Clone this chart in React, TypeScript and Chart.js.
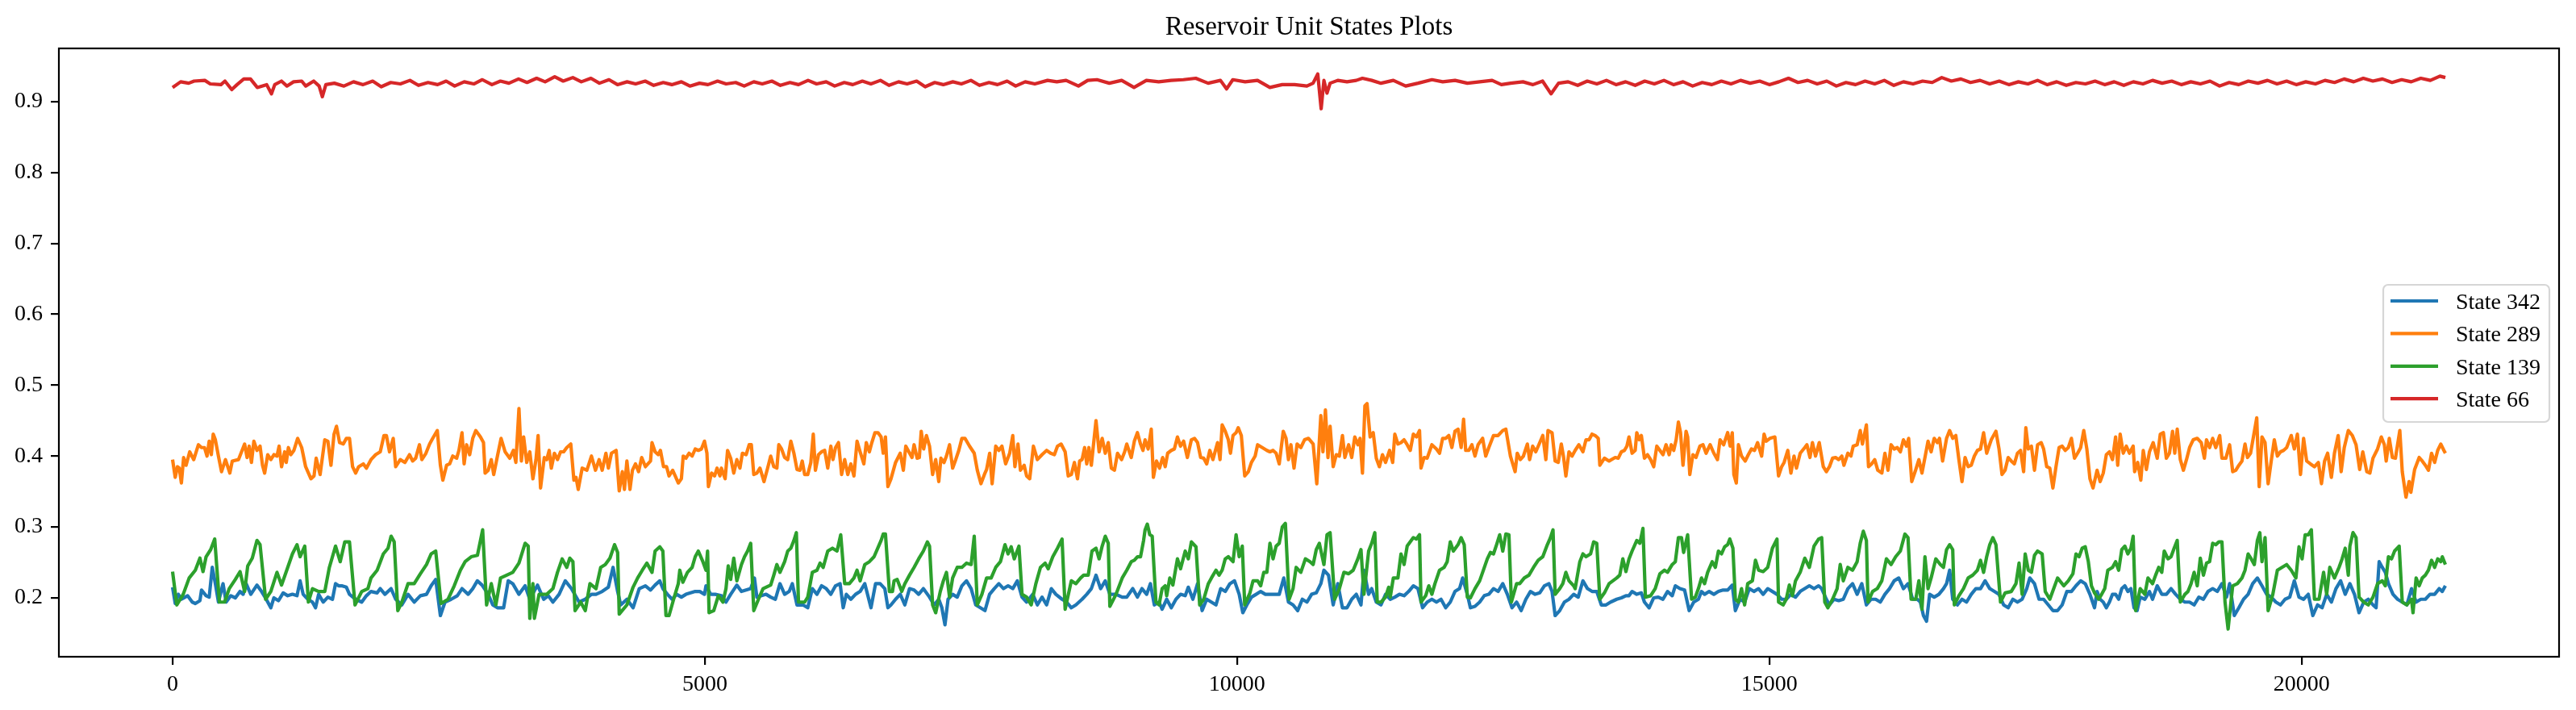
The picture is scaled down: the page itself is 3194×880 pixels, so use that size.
import { useEffect, useRef } from 'react'
import { Chart, registerables } from 'chart.js'

Chart.register(...registerables)

const chartTitle = 'Reservoir Unit States Plots'
const seriesNames = ['State 342', 'State 289', 'State 139', 'State 66']
const seriesColors = ['#1f77b4', '#ff7f0e', '#2ca02c', '#d62728']
const xTicks = [0, 5000, 10000, 15000, 20000]
const yTicks = [0.2, 0.3, 0.4, 0.5, 0.6, 0.7, 0.8, 0.9]

// [step, value] pairs
const state342: [number, number][] = [
  [0,0.215],[25,0.192],[54,0.205],[83,0.198],[141,0.203],[185,0.194],[214,0.192],[257,0.196],[272,0.211],[315,0.203],
  [344,0.201],[373,0.243],[402,0.220],[431,0.194],[474,0.220],[503,0.194],[547,0.203],[590,0.200],[634,0.209],[663,0.205],
  [691,0.220],[735,0.205],[793,0.218],[836,0.209],[880,0.198],[923,0.186],[952,0.200],[995,0.196],[1039,0.207],[1082,0.203],
  [1126,0.205],[1169,0.203],[1198,0.224],[1227,0.205],[1271,0.198],[1314,0.194],[1343,0.186],[1372,0.205],[1415,0.194],[1459,0.201],
  [1502,0.198],[1531,0.220],[1560,0.217],[1589,0.217],[1633,0.215],[1662,0.205],[1720,0.198],[1777,0.194],[1821,0.203],[1864,0.209],
  [1922,0.207],[1951,0.213],[1995,0.205],[2053,0.213],[2096,0.198],[2154,0.190],[2212,0.205],[2270,0.194],[2328,0.203],[2386,0.205],
  [2429,0.217],[2472,0.226],[2516,0.175],[2559,0.194],[2617,0.198],[2675,0.203],[2719,0.213],[2777,0.205],[2820,0.213],[2863,0.224],
  [2907,0.218],[2965,0.205],[3008,0.190],[3052,0.186],[3110,0.186],[3153,0.224],[3196,0.220],[3254,0.205],[3312,0.217],[3356,0.198],
  [3428,0.218],[3486,0.198],[3530,0.203],[3573,0.194],[3631,0.205],[3689,0.224],[3747,0.213],[3819,0.194],[3877,0.198],[3935,0.205],
  [3978,0.205],[4036,0.209],[4094,0.215],[4138,0.243],[4181,0.209],[4210,0.190],[4268,0.198],[4326,0.186],[4384,0.213],[4442,0.217],
  [4490,0.211],[4533,0.218],[4577,0.224],[4606,0.213],[4649,0.205],[4693,0.198],[4736,0.205],[4780,0.201],[4823,0.205],[4866,0.207],
  [4910,0.209],[4953,0.209],[4997,0.205],[5011,0.217],[5055,0.205],[5098,0.205],[5156,0.203],[5199,0.194],[5243,0.205],[5301,0.218],
  [5344,0.209],[5388,0.211],[5431,0.213],[5466,0.228],[5489,0.201],[5532,0.203],[5576,0.205],[5619,0.201],[5663,0.198],[5706,0.220],
  [5750,0.205],[5793,0.209],[5822,0.220],[5866,0.190],[5923,0.190],[5967,0.186],[6010,0.213],[6054,0.205],[6097,0.217],[6141,0.213],
  [6184,0.205],[6228,0.217],[6271,0.220],[6300,0.186],[6329,0.205],[6372,0.198],[6416,0.205],[6459,0.209],[6503,0.220],[6561,0.186],
  [6604,0.220],[6647,0.220],[6691,0.213],[6720,0.186],[6749,0.190],[6792,0.198],[6836,0.205],[6879,0.190],[6923,0.213],[6966,0.211],
  [7009,0.205],[7053,0.213],[7111,0.201],[7154,0.190],[7198,0.198],[7227,0.186],[7256,0.162],[7285,0.198],[7328,0.205],[7371,0.201],
  [7415,0.217],[7458,0.224],[7502,0.213],[7545,0.190],[7589,0.186],[7632,0.182],[7675,0.205],[7719,0.213],[7762,0.220],[7806,0.213],
  [7849,0.217],[7893,0.213],[7936,0.224],[7980,0.201],[8023,0.194],[8081,0.205],[8124,0.190],[8168,0.201],[8211,0.190],[8255,0.213],
  [8298,0.205],[8356,0.198],[8399,0.194],[8443,0.186],[8486,0.190],[8544,0.198],[8588,0.205],[8631,0.213],[8675,0.232],[8718,0.213],
  [8762,0.224],[8805,0.205],[8863,0.205],[8921,0.201],[8964,0.201],
  [9020,0.213],[9064,0.201],[9107,0.213],[9151,0.205],[9186,0.220],[9223,0.190],[9267,0.194],[9296,0.184],[9339,0.198],[9382,0.186],
  [9426,0.198],[9469,0.205],[9513,0.203],[9542,0.215],[9585,0.198],[9629,0.220],[9672,0.182],[9715,0.198],[9759,0.194],[9802,0.190],
  [9846,0.213],[9889,0.209],[9933,0.220],[9976,0.224],[10020,0.205],[10054,0.179],[10092,0.190],[10135,0.201],[10179,0.205],[10222,0.209],
  [10266,0.205],[10309,0.205],[10353,0.205],[10396,0.205],[10439,0.228],[10483,0.194],[10526,0.190],[10570,0.182],[10613,0.198],[10657,0.194],
  [10700,0.205],[10744,0.207],[10787,0.220],[10816,0.239],[10859,0.232],[10903,0.190],[10946,0.220],[10990,0.186],[11033,0.186],[11077,0.198],
  [11120,0.205],[11164,0.190],[11192,0.239],[11236,0.205],[11265,0.213],[11308,0.194],[11352,0.190],[11395,0.205],[11439,0.198],[11482,0.201],
  [11525,0.205],[11569,0.203],[11612,0.209],[11656,0.217],[11699,0.213],[11743,0.186],[11786,0.194],[11830,0.198],[11873,0.194],[11916,0.198],
  [11960,0.186],[12003,0.194],[12047,0.209],[12090,0.213],[12119,0.228],[12163,0.205],[12192,0.186],[12235,0.188],[12279,0.194],[12322,0.203],
  [12365,0.205],[12409,0.213],[12452,0.209],[12496,0.220],[12539,0.205],[12583,0.186],[12626,0.194],[12669,0.182],[12713,0.198],[12756,0.209],
  [12800,0.205],[12843,0.207],[12887,0.217],[12930,0.220],[12959,0.209],[12988,0.175],[13031,0.182],[13075,0.194],[13118,0.198],[13162,0.205],
  [13205,0.201],[13249,0.224],[13292,0.213],[13335,0.209],[13379,0.209],[13422,0.190],[13466,0.190],[13509,0.194],
  [13566,0.198],[13610,0.200],[13653,0.203],[13682,0.203],[13711,0.209],[13755,0.205],[13798,0.207],[13827,0.194],[13871,0.186],[13914,0.200],
  [13957,0.201],[14001,0.198],[14044,0.209],[14088,0.203],[14117,0.217],[14160,0.213],[14204,0.211],[14247,0.182],[14290,0.194],[14334,0.198],
  [14363,0.209],[14392,0.205],[14435,0.209],[14479,0.205],[14522,0.209],[14566,0.211],[14609,0.211],[14652,0.218],[14681,0.182],[14725,0.198],
  [14768,0.194],[14812,0.213],[14855,0.209],[14899,0.213],[14942,0.205],[14985,0.213],[15029,0.209],[15072,0.205],[15116,0.198],[15159,0.198],
  [15203,0.205],[15246,0.201],[15290,0.209],[15333,0.213],[15376,0.217],[15420,0.213],[15463,0.217],[15492,0.213],[15536,0.198],[15565,0.190],
  [15608,0.198],[15652,0.196],[15695,0.198],[15738,0.213],[15782,0.220],[15825,0.205],[15869,0.220],[15912,0.190],[15956,0.198],[15999,0.198],
  [16043,0.194],[16086,0.205],[16129,0.213],[16173,0.224],[16216,0.228],[16260,0.213],[16303,0.220],[16347,0.198],[16390,0.198],[16419,0.194],
  [16448,0.175],[16477,0.167],[16506,0.205],[16549,0.201],[16593,0.205],[16636,0.213],[16665,0.220],[16694,0.239],[16723,0.198],[16767,0.190],
  [16810,0.198],[16853,0.194],[16897,0.205],[16940,0.213],[16984,0.213],[17027,0.224],[17071,0.213],[17114,0.209],[17158,0.205],[17201,0.190],
  [17244,0.186],[17288,0.198],[17331,0.194],[17375,0.198],[17418,0.213],[17447,0.228],[17491,0.220],[17534,0.198],[17577,0.198],[17621,0.190],
  [17664,0.182],[17708,0.182],[17751,0.190],[17795,0.209],[17838,0.209],[17881,0.217],[17925,0.224],[17968,0.220],[18012,0.205],[18055,0.186],
  [18079,0.209],[18108,0.198],[18137,0.194],[18166,0.186],[18195,0.194],[18224,0.205],[18253,0.205],[18282,0.198],[18311,0.213],[18340,0.217],
  [18368,0.209],[18397,0.213],[18426,0.186],[18455,0.182],[18484,0.201],[18528,0.198],[18571,0.209],[18600,0.198],[18644,0.217],[18687,0.205],
  [18730,0.205],[18774,0.213],[18817,0.205],[18861,0.198],[18904,0.194],[18948,0.194],[18991,0.190],[19035,0.201],[19078,0.198],[19121,0.209],
  [19165,0.213],[19208,0.209],[19252,0.220],[19295,0.201],[19324,0.220],[19368,0.175],[19411,0.186],[19455,0.198],[19498,0.205],[19541,0.220],
  [19585,0.228],[19628,0.217],[19672,0.205],[19715,0.201],[19759,0.194],[19802,0.190],[19845,0.198],[19889,0.201],[19932,0.224],[19976,0.201],
  [20019,0.198],[20063,0.205],[20106,0.175],[20150,0.190],[20193,0.186],[20236,0.205],[20280,0.194],[20323,0.213],[20367,0.224],[20410,0.205],
  [20454,0.220],[20497,0.205],[20540,0.179],[20584,0.194],[20627,0.198],[20671,0.190],[20700,0.186],[20729,0.251],[20758,0.243],[20787,0.236],
  [20816,0.220],[20859,0.205],[20902,0.198],[20946,0.194],[20989,0.190],[21033,0.213],[21076,0.194],[21120,0.198],[21163,0.198],[21206,0.205],
  [21250,0.205],[21293,0.213],[21322,0.209],[21351,0.217],
]

const state289: [number, number][] = [
  [0,0.395],[25,0.370],[46,0.385],[63,0.383],[83,0.362],[104,0.398],[127,0.387],[161,0.406],[199,0.395],[243,0.416],
  [272,0.412],[300,0.412],[324,0.400],[344,0.421],[364,0.402],[382,0.431],[402,0.423],[431,0.400],[460,0.378],[497,0.395],
  [538,0.376],[561,0.393],[619,0.395],[648,0.406],[677,0.417],[700,0.398],[720,0.414],[741,0.391],[764,0.421],[793,0.408],
  [822,0.414],[845,0.387],[865,0.376],[894,0.402],[923,0.395],[952,0.402],[981,0.400],[1001,0.414],[1024,0.385],[1053,0.406],
  [1068,0.391],[1088,0.412],[1111,0.402],[1140,0.408],[1175,0.425],[1213,0.412],[1250,0.385],[1300,0.368],[1329,0.372],[1349,0.397],
  [1386,0.374],[1430,0.423],[1459,0.421],[1488,0.387],[1517,0.431],[1540,0.442],[1569,0.419],[1604,0.417],[1633,0.425],[1662,0.425],
  [1691,0.385],[1720,0.376],[1748,0.385],[1792,0.389],[1821,0.383],[1864,0.395],[1908,0.402],[1951,0.406],[1986,0.429],[2009,0.429],
  [2038,0.406],[2073,0.425],[2096,0.385],[2139,0.395],[2183,0.391],[2226,0.402],[2255,0.393],[2284,0.397],[2319,0.416],[2342,0.395],
  [2380,0.404],[2415,0.417],[2444,0.425],[2487,0.436],[2516,0.387],[2539,0.366],[2574,0.387],[2603,0.389],[2632,0.400],[2669,0.397],
  [2690,0.408],[2719,0.433],[2739,0.389],[2762,0.416],[2791,0.402],[2820,0.425],[2849,0.436],[2892,0.427],[2921,0.419],[2936,0.376],
  [2965,0.380],[2994,0.395],[3017,0.374],[3052,0.400],[3086,0.425],[3124,0.406],[3168,0.397],[3202,0.408],[3225,0.391],[3254,0.467],
  [3277,0.393],[3298,0.427],[3327,0.391],[3356,0.406],[3385,0.368],[3414,0.395],[3434,0.429],[3457,0.355],[3492,0.398],[3515,0.395],
  [3538,0.408],[3558,0.383],[3587,0.404],[3616,0.395],[3645,0.406],[3674,0.406],[3703,0.412],[3741,0.417],[3770,0.366],[3790,0.370],
  [3811,0.353],[3848,0.383],[3892,0.380],[3935,0.400],[3973,0.380],[4007,0.395],[4036,0.380],[4071,0.404],[4094,0.383],[4123,0.404],
  [4167,0.408],[4196,0.351],[4225,0.378],[4245,0.353],[4268,0.393],[4297,0.353],[4320,0.380],[4349,0.389],[4378,0.378],[4407,0.398],
  [4442,0.385],
  [4490,0.393],[4504,0.419],[4533,0.406],[4562,0.402],[4583,0.408],[4612,0.385],[4641,0.385],[4664,0.372],[4698,0.380],[4722,0.372],
  [4751,0.362],[4780,0.368],[4797,0.400],[4823,0.397],[4852,0.404],[4881,0.400],[4910,0.410],[4939,0.408],[4968,0.410],[4997,0.421],
  [5020,0.404],[5034,0.357],[5063,0.376],[5092,0.372],[5115,0.383],[5142,0.372],[5156,0.383],[5191,0.368],[5214,0.408],[5243,0.397],
  [5272,0.376],[5301,0.395],[5330,0.383],[5353,0.404],[5388,0.402],[5417,0.416],[5437,0.416],[5460,0.374],[5489,0.376],[5518,0.383],
  [5556,0.364],[5590,0.383],[5619,0.400],[5648,0.385],[5677,0.383],[5695,0.416],[5721,0.410],[5750,0.398],[5779,0.395],[5808,0.421],
  [5837,0.404],[5866,0.381],[5894,0.380],[5915,0.393],[5938,0.374],[5967,0.374],[5996,0.391],[6019,0.431],[6039,0.380],[6068,0.402],
  [6097,0.406],[6126,0.408],[6155,0.383],[6184,0.414],[6204,0.395],[6228,0.412],[6256,0.419],[6285,0.374],[6314,0.395],[6343,0.374],
  [6372,0.389],[6401,0.372],[6430,0.421],[6459,0.406],[6494,0.389],[6517,0.419],[6546,0.406],[6569,0.419],[6598,0.433],[6627,0.433],
  [6656,0.427],[6676,0.404],[6697,0.427],[6720,0.357],[6749,0.368],[6792,0.391],[6836,0.404],[6865,0.380],[6888,0.414],[6917,0.406],
  [6946,0.398],[6966,0.416],[6995,0.397],[7015,0.398],[7033,0.435],[7056,0.410],[7082,0.429],[7111,0.414],[7140,0.374],[7169,0.395],
  [7198,0.364],[7218,0.397],[7247,0.391],[7270,0.400],[7299,0.416],[7328,0.383],[7357,0.395],[7386,0.408],[7415,0.425],[7444,0.425],
  [7487,0.414],[7531,0.404],[7560,0.380],[7594,0.361],[7632,0.376],[7647,0.381],[7676,0.404],[7699,0.361],[7733,0.414],[7762,0.408],
  [7791,0.414],[7826,0.389],[7864,0.404],[7893,0.429],[7913,0.385],[7942,0.417],[7965,0.380],[8000,0.387],[8023,0.372],[8052,0.368],
  [8087,0.414],[8124,0.395],[8168,0.402],[8211,0.408],[8249,0.404],[8284,0.402],[8313,0.414],[8347,0.417],[8385,0.406],[8414,0.372],
  [8443,0.374],[8472,0.391],[8501,0.368],[8521,0.393],[8544,0.395],[8568,0.412],[8588,0.389],[8608,0.412],[8631,0.387],[8675,0.450],
  [8704,0.406],[8733,0.425],[8762,0.404],[8790,0.419],[8819,0.383],[8848,0.380],[8877,0.404],[8915,0.395],[8944,0.406],[8964,0.417],
  [9006,0.398],[9035,0.421],[9064,0.433],[9093,0.417],[9116,0.408],[9136,0.423],[9165,0.410],[9194,0.438],[9214,0.370],[9243,0.393],
  [9272,0.383],[9301,0.398],[9325,0.385],[9348,0.404],[9382,0.408],[9411,0.410],[9440,0.427],[9469,0.414],[9498,0.421],[9533,0.398],
  [9571,0.423],[9600,0.425],[9629,0.419],[9658,0.398],[9687,0.397],[9715,0.389],[9744,0.408],[9773,0.395],[9817,0.419],[9840,0.395],
  [9860,0.444],[9889,0.435],[9918,0.423],[9938,0.404],[9962,0.429],[9991,0.433],[10011,0.440],[10040,0.429],[10072,0.372],[10106,0.378],
  [10135,0.391],[10170,0.400],[10193,0.416],[10237,0.412],[10280,0.408],[10309,0.406],[10338,0.408],[10367,0.404],[10396,0.389],[10434,0.435],
  [10460,0.425],[10483,0.395],[10506,0.416],[10535,0.383],[10564,0.417],[10599,0.412],[10634,0.423],[10671,0.425],[10715,0.417],[10749,0.361],
  [10787,0.457],[10807,0.406],[10830,0.465],[10854,0.398],[10874,0.442],[10903,0.385],[10932,0.402],[10961,0.400],[10990,0.429],[11013,0.398],
  [11048,0.416],[11077,0.398],[11106,0.427],[11135,0.416],[11155,0.425],[11178,0.376],[11201,0.471],[11221,0.474],[11250,0.427],[11279,0.433],
  [11308,0.397],[11337,0.385],[11366,0.402],[11395,0.391],[11433,0.408],[11462,0.391],[11482,0.431],[11511,0.417],[11540,0.419],[11569,0.423],
  [11598,0.416],[11627,0.408],[11656,0.431],[11685,0.427],[11714,0.436],[11728,0.383],[11757,0.398],[11786,0.397],[11830,0.416],[11873,0.410],
  [11902,0.404],[11931,0.425],[11960,0.425],[11989,0.429],[12018,0.412],[12047,0.435],[12076,0.438],[12105,0.412],[12128,0.452],[12148,0.408],
  [12177,0.408],[12206,0.416],[12235,0.400],[12264,0.416],[12307,0.425],[12336,0.400],[12365,0.412],[12409,0.429],[12452,0.429],[12496,0.436],
  [12525,0.438],[12568,0.400],[12612,0.378],[12632,0.404],[12661,0.395],[12690,0.400],[12727,0.417],[12748,0.395],[12777,0.414],[12806,0.406],
  [12835,0.416],[12872,0.429],[12901,0.395],[12921,0.436],[12959,0.433],[12988,0.393],[13017,0.391],[13046,0.417],[13066,0.400],[13089,0.372],
  [13118,0.406],[13147,0.400],[13176,0.408],[13211,0.416],[13249,0.406],[13278,0.423],[13307,0.423],[13335,0.431],[13364,0.429],[13393,0.425],
  [13408,0.387],[13451,0.397],[13495,0.393],
  [13552,0.398],[13581,0.397],[13610,0.406],[13639,0.408],[13662,0.414],[13682,0.427],[13711,0.404],[13740,0.408],[13755,0.433],[13778,0.423],
  [13798,0.429],[13827,0.397],[13856,0.402],[13885,0.395],[13914,0.385],[13943,0.414],[13972,0.408],[14001,0.402],[14030,0.416],[14059,0.402],
  [14079,0.416],[14102,0.408],[14125,0.423],[14146,0.448],[14166,0.433],[14189,0.387],[14218,0.435],[14233,0.427],[14253,0.374],[14282,0.402],
  [14311,0.398],[14348,0.414],[14377,0.416],[14406,0.404],[14444,0.416],[14479,0.404],[14513,0.395],[14537,0.423],[14571,0.416],[14609,0.433],
  [14632,0.414],[14652,0.433],[14667,0.374],[14690,0.362],[14710,0.416],[14739,0.400],[14774,0.393],[14803,0.402],[14832,0.410],[14861,0.408],
  [14890,0.419],[14928,0.400],[14951,0.431],[14971,0.421],[15006,0.425],[15052,0.427],[15087,0.372],[15116,0.385],[15139,0.391],[15174,0.408],
  [15203,0.376],[15232,0.400],[15255,0.383],[15290,0.404],[15333,0.412],[15353,0.416],[15382,0.398],[15405,0.419],[15434,0.400],[15469,0.419],
  [15507,0.385],[15536,0.378],[15565,0.385],[15594,0.397],[15623,0.398],[15652,0.395],[15681,0.400],[15701,0.387],[15738,0.404],[15767,0.400],
  [15788,0.414],[15825,0.416],[15854,0.436],[15875,0.417],[15912,0.444],[15932,0.385],[15961,0.389],[15990,0.395],[16019,0.380],[16057,0.376],
  [16086,0.404],[16115,0.380],[16144,0.416],[16173,0.410],[16202,0.412],[16231,0.406],[16260,0.423],[16289,0.414],[16309,0.425],[16338,0.364],
  [16376,0.381],[16405,0.395],[16434,0.376],[16462,0.398],[16491,0.421],[16520,0.406],[16549,0.425],[16578,0.419],[16599,0.425],[16628,0.393],
  [16665,0.425],[16694,0.436],[16723,0.425],[16752,0.429],[16781,0.395],[16810,0.364],[16839,0.398],[16868,0.385],[16897,0.387],[16926,0.400],
  [16955,0.408],[16984,0.410],[17013,0.433],[17042,0.404],[17085,0.423],[17129,0.435],[17158,0.410],[17186,0.374],[17215,0.380],[17244,0.398],
  [17273,0.393],[17302,0.389],[17331,0.404],[17360,0.408],[17389,0.378],[17410,0.440],[17433,0.410],[17462,0.414],[17491,0.380],[17520,0.416],
  [17554,0.419],[17577,0.410],[17606,0.385],[17635,0.383],[17664,0.355],[17693,0.385],[17722,0.412],[17751,0.414],[17780,0.408],[17809,0.412],
  [17838,0.425],[17867,0.397],[17896,0.404],[17925,0.412],[17954,0.436],[17983,0.410],[18012,0.368],[18041,0.355],
  [18079,0.380],[18108,0.364],[18137,0.376],[18166,0.402],[18195,0.406],[18224,0.395],[18253,0.427],[18273,0.387],[18296,0.431],[18325,0.404],
  [18354,0.414],[18383,0.404],[18418,0.414],[18432,0.378],[18461,0.391],[18490,0.366],[18513,0.408],[18542,0.381],[18571,0.406],[18606,0.419],
  [18644,0.397],[18673,0.431],[18702,0.433],[18730,0.397],[18759,0.404],[18788,0.435],[18809,0.404],[18832,0.438],[18861,0.395],[18890,0.380],
  [18919,0.395],[18948,0.412],[18982,0.423],[19020,0.425],[19058,0.419],[19087,0.397],[19107,0.423],[19136,0.412],[19165,0.425],[19194,0.412],
  [19231,0.429],[19252,0.397],[19289,0.397],[19324,0.416],[19353,0.378],[19382,0.380],[19411,0.387],[19440,0.393],[19469,0.417],[19492,0.398],
  [19521,0.404],[19550,0.429],[19579,0.454],[19602,0.357],[19628,0.427],[19657,0.419],[19686,0.361],[19715,0.393],[19744,0.423],[19773,0.400],
  [19802,0.406],[19831,0.408],[19860,0.412],[19903,0.429],[19932,0.410],[19961,0.431],[19990,0.374],[20019,0.425],[20048,0.393],[20083,0.389],
  [20121,0.385],[20158,0.391],[20187,0.361],[20216,0.393],[20245,0.404],[20280,0.370],[20309,0.404],[20344,0.429],[20372,0.378],[20401,0.412],
  [20439,0.436],[20477,0.429],[20512,0.416],[20546,0.381],[20575,0.406],[20613,0.378],[20642,0.376],[20671,0.397],[20714,0.410],[20749,0.427],
  [20778,0.416],[20795,0.393],[20824,0.425],[20853,0.398],[20882,0.397],[20923,0.436],[20946,0.378],[20981,0.342],[21010,0.364],[21027,0.349],
  [21062,0.381],[21105,0.398],[21134,0.393],[21163,0.387],[21192,0.380],[21221,0.404],[21250,0.391],[21279,0.408],[21308,0.417],[21337,0.408],
  [21351,0.404],
]

const state139: [number, number][] = [
  [0,0.237],[40,0.190],[100,0.205],[156,0.228],[214,0.239],[257,0.256],[286,0.237],[315,0.258],[358,0.268],[396,0.283],
  [440,0.194],[489,0.194],[532,0.213],[590,0.226],[634,0.237],[677,0.209],[706,0.245],[749,0.256],[793,0.281],[822,0.275],
  [874,0.198],[923,0.209],[981,0.236],[1024,0.218],[1068,0.237],[1126,0.262],[1169,0.275],[1198,0.258],[1242,0.273],[1276,0.194],
  [1314,0.213],[1372,0.209],[1430,0.209],[1473,0.243],[1531,0.273],[1575,0.251],[1618,0.279],[1662,0.279],[1714,0.190],[1777,0.209],
  [1835,0.213],[1864,0.228],[1922,0.239],[1980,0.262],[2024,0.270],[2053,0.287],[2082,0.279],[2116,0.182],[2154,0.194],[2212,0.220],
  [2270,0.220],[2328,0.234],[2386,0.247],[2429,0.262],[2472,0.266],[2522,0.192],[2588,0.198],[2646,0.217],[2704,0.239],[2748,0.251],
  [2806,0.258],[2864,0.260],[2913,0.296],[2950,0.190],[2994,0.220],[3037,0.190],[3081,0.228],[3139,0.232],[3196,0.236],[3254,0.249],
  [3312,0.277],[3341,0.273],[3356,0.171],[3385,0.220],[3399,0.171],[3443,0.205],[3515,0.205],[3573,0.213],[3616,0.236],[3660,0.255],
  [3703,0.243],[3732,0.256],[3761,0.251],[3781,0.182],[3834,0.194],[3877,0.182],[3921,0.220],[3978,0.213],[4022,0.243],[4065,0.247],
  [4109,0.256],[4152,0.275],[4181,0.264],[4196,0.177],[4268,0.190],[4326,0.215],[4369,0.228],[4413,0.239],[4456,0.249],
  [4504,0.236],[4533,0.266],[4577,0.272],[4606,0.266],[4635,0.175],[4664,0.175],[4707,0.198],[4751,0.220],[4765,0.239],[4794,0.222],
  [4837,0.236],[4881,0.243],[4910,0.258],[4939,0.266],[4982,0.251],[5011,0.239],[5026,0.266],[5040,0.179],[5084,0.182],[5127,0.203],
  [5170,0.194],[5199,0.213],[5220,0.245],[5243,0.226],[5272,0.256],[5301,0.224],[5344,0.247],[5373,0.258],[5402,0.266],[5431,0.277],
  [5460,0.182],[5504,0.198],[5547,0.213],[5619,0.218],[5648,0.232],[5677,0.247],[5706,0.236],[5750,0.251],[5779,0.266],[5808,0.270],
  [5837,0.281],[5860,0.292],[5880,0.194],[5938,0.194],[5967,0.201],[6010,0.236],[6054,0.239],[6083,0.249],[6112,0.243],[6155,0.266],
  [6199,0.270],[6242,0.266],[6277,0.289],[6314,0.220],[6358,0.220],[6401,0.228],[6430,0.239],[6459,0.224],[6503,0.247],[6546,0.251],
  [6590,0.258],[6633,0.273],[6656,0.281],[6676,0.290],[6697,0.290],[6734,0.209],[6763,0.209],[6778,0.224],[6807,0.226],[6850,0.209],
  [6879,0.220],[6923,0.232],[6966,0.243],[7009,0.255],[7053,0.266],[7091,0.279],[7111,0.273],[7140,0.190],[7169,0.179],[7212,0.209],
  [7241,0.224],[7270,0.236],[7299,0.201],[7328,0.228],[7371,0.243],[7415,0.243],[7458,0.249],[7502,0.247],[7531,0.287],[7560,0.190],
  [7603,0.205],[7647,0.228],[7690,0.228],[7733,0.243],[7777,0.251],[7820,0.275],[7849,0.262],[7878,0.272],[7907,0.255],[7951,0.273],
  [7980,0.205],[8023,0.201],[8066,0.190],[8110,0.220],[8153,0.243],[8197,0.249],[8226,0.241],[8269,0.258],[8313,0.270],[8356,0.283],
  [8385,0.184],[8443,0.224],[8486,0.220],[8530,0.228],[8559,0.232],[8602,0.232],[8637,0.266],[8675,0.270],[8704,0.255],[8733,0.273],
  [8762,0.287],[8790,0.277],[8805,0.188],[8863,0.205],[8921,0.228],[8964,0.239],
  [9006,0.251],[9035,0.253],[9064,0.258],[9093,0.258],[9122,0.281],[9136,0.296],[9157,0.304],[9180,0.289],[9203,0.287],[9238,0.194],
  [9267,0.190],[9296,0.213],[9325,0.217],[9339,0.203],[9368,0.228],[9397,0.218],[9440,0.255],[9469,0.241],[9513,0.266],[9542,0.255],
  [9571,0.279],[9614,0.272],[9649,0.190],[9687,0.198],[9730,0.220],[9759,0.228],[9802,0.239],[9831,0.232],[9860,0.239],[9889,0.255],
  [9918,0.258],[9962,0.251],[9991,0.289],[10020,0.258],[10049,0.273],[10072,0.190],[10121,0.207],[10150,0.224],[10193,0.224],[10222,0.217],
  [10251,0.236],[10280,0.236],[10309,0.277],[10338,0.255],[10367,0.273],[10396,0.277],[10425,0.300],[10454,0.305],[10489,0.198],[10526,0.213],
  [10555,0.243],[10599,0.236],[10642,0.255],[10686,0.251],[10715,0.247],[10744,0.268],[10773,0.277],[10816,0.247],[10845,0.289],[10874,0.292],
  [10917,0.198],[10961,0.213],[11004,0.236],[11048,0.234],[11091,0.239],[11135,0.255],[11164,0.268],[11192,0.205],[11236,0.266],[11265,0.277],
  [11294,0.292],[11317,0.194],[11352,0.194],[11395,0.201],[11424,0.215],[11439,0.201],[11468,0.228],[11511,0.228],[11540,0.262],[11569,0.247],
  [11598,0.273],[11627,0.279],[11656,0.285],[11685,0.283],[11714,0.289],[11728,0.194],[11772,0.203],[11801,0.217],[11830,0.205],[11859,0.220],
  [11902,0.239],[11945,0.243],[11974,0.251],[12003,0.279],[12032,0.266],[12076,0.275],[12105,0.285],[12134,0.275],[12163,0.201],[12192,0.200],
  [12235,0.213],[12279,0.224],[12307,0.236],[12351,0.255],[12380,0.264],[12409,0.262],[12438,0.275],[12467,0.289],[12496,0.266],[12525,0.290],
  [12554,0.289],[12577,0.194],[12626,0.220],[12655,0.220],[12698,0.228],[12742,0.232],[12785,0.243],[12829,0.253],[12872,0.258],[12915,0.275],
  [12944,0.285],[12968,0.296],[12988,0.205],[13031,0.213],[13060,0.220],[13089,0.236],[13118,0.224],[13162,0.217],[13176,0.213],[13220,0.251],
  [13249,0.262],[13278,0.258],[13321,0.262],[13350,0.279],[13379,0.277],[13408,0.198],[13451,0.207],[13495,0.220],
  [13566,0.228],[13595,0.232],[13624,0.255],[13653,0.237],[13682,0.255],[13711,0.266],[13755,0.281],[13784,0.277],[13813,0.298],[13836,0.201],
  [13885,0.203],[13928,0.213],[13972,0.234],[14015,0.239],[14044,0.236],[14088,0.247],[14117,0.251],[14146,0.285],[14175,0.285],[14195,0.264],
  [14233,0.289],[14270,0.198],[14305,0.201],[14334,0.213],[14363,0.228],[14392,0.220],[14421,0.236],[14464,0.251],[14493,0.243],[14522,0.266],
  [14551,0.262],[14580,0.272],[14609,0.275],[14629,0.283],[14658,0.270],[14681,0.198],[14710,0.194],[14739,0.213],[14768,0.190],[14797,0.220],
  [14841,0.224],[14870,0.253],[14899,0.239],[14942,0.237],[14985,0.243],[15029,0.270],[15072,0.283],[15087,0.194],[15130,0.190],[15159,0.198],
  [15188,0.218],[15217,0.203],[15246,0.224],[15290,0.236],[15333,0.256],[15376,0.243],[15420,0.273],[15463,0.283],[15492,0.285],[15521,0.194],
  [15550,0.186],[15594,0.198],[15637,0.213],[15666,0.247],[15695,0.224],[15738,0.243],[15782,0.239],[15825,0.251],[15854,0.277],[15883,0.294],
  [15912,0.281],[15927,0.194],[15970,0.209],[16014,0.213],[16057,0.224],[16100,0.255],[16144,0.247],[16187,0.258],[16231,0.266],[16274,0.290],
  [16303,0.285],[16332,0.198],[16376,0.198],[16405,0.224],[16434,0.184],[16462,0.258],[16491,0.213],[16520,0.228],[16564,0.255],[16607,0.247],
  [16636,0.243],[16665,0.268],[16694,0.275],[16723,0.268],[16738,0.190],[16781,0.203],[16824,0.213],[16868,0.228],[16911,0.232],[16955,0.239],
  [16984,0.253],[17013,0.236],[17042,0.258],[17071,0.275],[17100,0.285],[17129,0.275],[17172,0.194],[17215,0.207],[17273,0.209],[17317,0.220],
  [17346,0.249],[17375,0.205],[17404,0.262],[17433,0.239],[17462,0.236],[17491,0.260],[17520,0.266],[17563,0.262],[17592,0.209],[17635,0.198],
  [17708,0.228],[17766,0.217],[17809,0.224],[17852,0.234],[17881,0.262],[17910,0.258],[17939,0.270],[17968,0.272],[17997,0.251],[18026,0.217],
  [18055,0.207],
  [18093,0.198],[18122,0.205],[18151,0.213],[18180,0.239],[18224,0.243],[18253,0.251],[18282,0.239],[18311,0.268],[18340,0.273],[18368,0.262],
  [18397,0.270],[18418,0.287],[18441,0.182],[18484,0.213],[18528,0.205],[18557,0.228],[18600,0.220],[18629,0.232],[18658,0.243],[18687,0.236],
  [18710,0.266],[18745,0.255],[18774,0.258],[18803,0.270],[18832,0.281],[18861,0.194],[18904,0.205],[18933,0.209],[18962,0.220],[18991,0.236],
  [19020,0.217],[19049,0.256],[19078,0.232],[19107,0.249],[19136,0.251],[19165,0.277],[19194,0.275],[19223,0.279],[19252,0.279],[19281,0.194],
  [19310,0.156],[19353,0.217],[19397,0.220],[19440,0.228],[19469,0.239],[19498,0.262],[19527,0.255],[19556,0.247],[19585,0.281],[19608,0.292],
  [19628,0.251],[19657,0.285],[19686,0.182],[19730,0.205],[19773,0.239],[19816,0.243],[19860,0.247],[19903,0.239],[19947,0.228],[19976,0.272],
  [20005,0.255],[20034,0.289],[20063,0.289],[20092,0.296],[20121,0.198],[20164,0.198],[20207,0.236],[20236,0.205],[20265,0.243],[20309,0.228],
  [20352,0.243],[20381,0.255],[20410,0.270],[20439,0.232],[20454,0.273],[20483,0.292],[20512,0.285],[20540,0.201],[20584,0.194],[20627,0.190],
  [20671,0.201],[20714,0.220],[20758,0.224],[20787,0.217],[20816,0.258],[20845,0.255],[20874,0.266],[20917,0.273],[20946,0.194],[20989,0.190],
  [21033,0.198],[21047,0.179],[21076,0.228],[21105,0.217],[21134,0.228],[21163,0.232],[21192,0.239],[21221,0.253],[21250,0.243],[21279,0.255],
  [21308,0.251],[21322,0.258],[21351,0.247],
]

const state66: [number, number][] = [
  [0,0.920],[76,0.928],[152,0.926],[202,0.929],[303,0.930],[354,0.925],[455,0.924],[492,0.929],[556,0.917],[606,0.924],
  [669,0.932],[732,0.932],[796,0.920],[884,0.924],[929,0.911],[960,0.924],[1023,0.929],[1074,0.922],[1137,0.928],[1213,0.929],
  [1251,0.922],[1326,0.929],[1377,0.922],[1407,0.907],[1440,0.924],[1520,0.926],[1610,0.922],[1700,0.928],[1790,0.924],[1880,0.929],
  [1960,0.921],[2050,0.927],[2140,0.925],[2230,0.930],[2310,0.923],[2400,0.927],[2490,0.924],[2570,0.929],[2650,0.922],[2740,0.928],
  [2830,0.925],[2910,0.931],[3000,0.924],[3080,0.929],[3160,0.926],[3250,0.932],[3330,0.927],[3420,0.933],[3500,0.928],[3590,0.935],
  [3670,0.929],[3760,0.934],[3840,0.928],[3930,0.933],[4010,0.926],[4100,0.931],[4180,0.924],[4270,0.928],[4350,0.925],[4440,0.929],
  [4520,0.923],[4610,0.927],[4690,0.924],[4780,0.928],[4860,0.922],[4950,0.926],[5030,0.924],[5120,0.929],[5200,0.925],[5290,0.927],
  [5370,0.922],[5460,0.928],[5540,0.925],[5630,0.929],[5710,0.923],[5800,0.927],[5880,0.924],[5970,0.930],[6050,0.925],[6140,0.928],
  [6220,0.922],[6310,0.927],[6390,0.924],[6480,0.929],[6560,0.925],[6650,0.930],[6730,0.923],[6820,0.928],[6900,0.925],[6990,0.929],
  [7070,0.921],[7160,0.927],[7240,0.924],[7330,0.928],[7410,0.925],[7500,0.930],[7580,0.923],[7670,0.927],[7750,0.924],[7840,0.929],
  [7920,0.922],[8010,0.928],[8100,0.925],[8220,0.930],[8307,0.928],[8394,0.930],[8510,0.922],[8597,0.930],[8684,0.931],[8800,0.926],
  [8916,0.930],[9032,0.920],[9148,0.930],[9264,0.928],[9380,0.930],[9496,0.931],[9612,0.933],[9728,0.926],[9844,0.930],[9902,0.918],
  [9960,0.931],[10076,0.928],[10192,0.930],[10308,0.920],[10424,0.924],[10540,0.924],[10656,0.922],[10714,0.926],[10758,0.939],[10790,0.890],
  [10816,0.930],[10845,0.912],[10874,0.926],[10946,0.930],[11033,0.928],[11120,0.930],[11178,0.933],[11265,0.930],[11352,0.926],[11468,0.930],
  [11584,0.922],[11700,0.926],[11831,0.931],[11932,0.928],[12048,0.930],[12164,0.926],[12280,0.928],[12396,0.930],[12483,0.924],[12570,0.926],
  [12686,0.928],[12780,0.924],[12870,0.929],[12950,0.911],[13020,0.926],[13110,0.928],[13200,0.923],[13290,0.929],[13380,0.925],[13470,0.930],
  [13560,0.924],[13650,0.928],[13740,0.923],[13830,0.929],[13920,0.925],[14010,0.930],[14100,0.924],[14190,0.928],[14280,0.922],[14370,0.927],
  [14460,0.924],[14550,0.929],[14640,0.925],[14730,0.930],[14820,0.926],[14910,0.929],[15000,0.924],[15090,0.928],[15180,0.933],[15270,0.927],
  [15360,0.930],[15450,0.925],[15540,0.929],[15630,0.922],[15720,0.927],[15810,0.924],[15900,0.929],[15990,0.925],[16080,0.930],[16170,0.923],
  [16260,0.928],[16350,0.925],[16440,0.929],[16530,0.927],[16620,0.934],[16710,0.929],[16800,0.932],[16890,0.927],[16980,0.930],[17070,0.925],
  [17160,0.929],[17250,0.924],[17340,0.928],[17430,0.925],[17520,0.930],[17610,0.924],[17700,0.928],[17790,0.923],[17880,0.927],[17970,0.925],
  [18060,0.929],[18150,0.924],[18240,0.928],[18330,0.923],[18420,0.928],[18510,0.925],[18600,0.930],[18690,0.926],[18780,0.929],[18870,0.924],
  [18960,0.928],[19050,0.925],[19140,0.929],[19230,0.922],[19320,0.927],[19410,0.924],[19500,0.929],[19590,0.926],[19680,0.930],[19770,0.925],
  [19860,0.929],[19950,0.924],[20040,0.928],[20130,0.925],[20220,0.930],[20310,0.927],[20400,0.932],[20490,0.928],[20580,0.933],[20670,0.929],
  [20760,0.932],[20850,0.927],[20940,0.931],[21030,0.928],[21120,0.933],[21210,0.930],[21300,0.936],[21351,0.934],
]

const seriesData = [state342, state289, state139, state66]

const FONT = '"Liberation Serif", "Times New Roman", serif'

// frame, title and an in-axes legend, drawn the matplotlib way
const decorPlugin = {
  id: 'decor',
  beforeDraw(chart: Chart) {
    const { ctx, width, height } = chart
    ctx.save()
    ctx.fillStyle = '#ffffff'
    ctx.fillRect(0, 0, width, height)
    ctx.restore()
  },
  afterDatasetsDraw(chart: Chart) {
    const { ctx, chartArea: a } = chart
    ctx.save()
    ctx.strokeStyle = '#000000'
    ctx.lineWidth = 2.2
    ctx.strokeRect(a.left, a.top, a.right - a.left, a.bottom - a.top)

    ctx.fillStyle = '#000000'
    ctx.font = `33px ${FONT}`
    ctx.textAlign = 'center'
    ctx.textBaseline = 'alphabetic'
    ctx.fillText(chartTitle, (a.left + a.right) / 2, a.top - 17)

    const bx = a.right - 218
    const by = a.top + 293
    const bw = 206
    const bh = 170
    ctx.beginPath()
    ctx.roundRect(bx, by, bw, bh, 6)
    ctx.fillStyle = 'rgba(255,255,255,0.8)'
    ctx.fill()
    ctx.strokeStyle = 'rgba(204,204,204,0.8)'
    ctx.lineWidth = 2.2
    ctx.stroke()

    ctx.font = `28px ${FONT}`
    ctx.textAlign = 'left'
    seriesNames.forEach((name, i) => {
      const y = by + 20 + i * 40.4
      ctx.beginPath()
      ctx.moveTo(bx + 9, y)
      ctx.lineTo(bx + 68, y)
      ctx.strokeStyle = seriesColors[i]
      ctx.lineWidth = 4.2
      ctx.stroke()
      ctx.fillStyle = '#000000'
      ctx.fillText(name, bx + 90, y + 10)
    })
    ctx.restore()
  },
}

export default function App() {
  const chartRef = useRef<HTMLCanvasElement>(null)
  const chartInstance = useRef<Chart | null>(null)

  useEffect(() => {
    document.body.style.margin = '0'
    if (!chartRef.current) return
    if (chartInstance.current) {
      chartInstance.current.destroy()
    }
    const ctx = chartRef.current.getContext('2d')
    if (!ctx) return

    chartInstance.current = new Chart(ctx, {
      type: 'line',
      data: {
        datasets: seriesData.map((pts, i) => ({
          label: seriesNames[i],
          data: pts.map(([x, y]) => ({ x, y })),
          borderColor: seriesColors[i],
          backgroundColor: seriesColors[i],
          borderWidth: 4.2,
          borderJoinStyle: 'round' as const,
          pointRadius: 0,
          tension: 0,
          fill: false,
          order: 4 - i,
        })),
      },
      options: {
        responsive: false,
        animation: false,
        devicePixelRatio: 1,
        events: [],
        layout: { padding: { top: 60, right: 21, bottom: 0, left: 0 } },
        plugins: {
          legend: { display: false },
          title: { display: false },
          tooltip: { enabled: false },
        },
        scales: {
          x: {
            type: 'linear',
            min: -1068,
            max: 22419,
            afterBuildTicks: (scale: any) => {
              scale.ticks = xTicks.map((value) => ({ value }))
            },
            afterFit: (scale: any) => {
              scale.height = 66
            },
            ticks: {
              color: '#000000',
              font: { family: FONT, size: 28 },
              padding: 8,
              maxRotation: 0,
              autoSkip: false,
              callback: (v: any) => String(v),
            },
            grid: {
              display: true,
              drawOnChartArea: false,
              drawTicks: true,
              tickLength: 10,
              color: '#000000',
              lineWidth: 2.2,
            },
            border: { display: false },
          },
          y: {
            type: 'linear',
            min: 0.1169,
            max: 0.9751,
            afterBuildTicks: (scale: any) => {
              scale.ticks = yTicks.map((value) => ({ value }))
            },
            afterFit: (scale: any) => {
              scale.width = 73
            },
            ticks: {
              color: '#000000',
              font: { family: FONT, size: 28 },
              padding: 10,
              autoSkip: false,
              callback: (v: any) => Number(v).toFixed(1),
            },
            grid: {
              display: true,
              drawOnChartArea: false,
              drawTicks: true,
              tickLength: 10,
              color: '#000000',
              lineWidth: 2.2,
            },
            border: { display: false },
          },
        },
      },
      plugins: [decorPlugin],
    })

    return () => {
      if (chartInstance.current) {
        chartInstance.current.destroy()
        chartInstance.current = null
      }
    }
  }, [])

  return (
    <div style={{ width: 3194, height: 880 }}>
      <canvas ref={chartRef} width={3194} height={880} style={{ display: 'block' }} />
    </div>
  )
}
